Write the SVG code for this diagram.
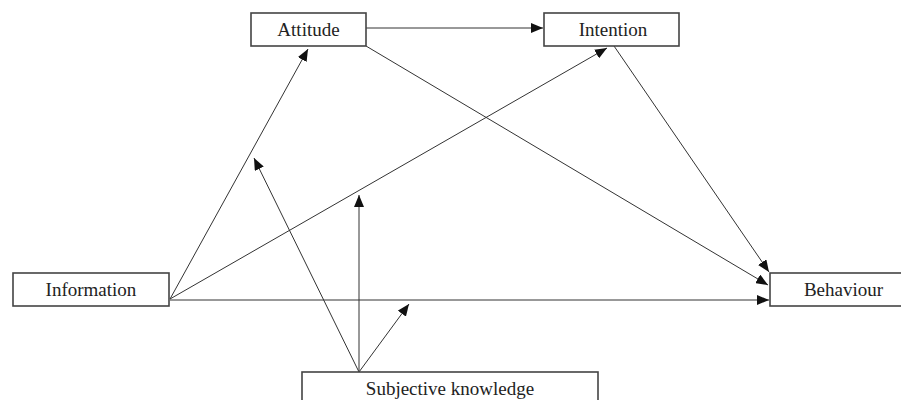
<svg xmlns="http://www.w3.org/2000/svg" width="901" height="400" viewBox="0 0 901 400">
<style>
.box{fill:#fff;stroke:#444;stroke-width:1.6}
.lbl{font-family:"Liberation Serif","Times New Roman",serif;font-size:19px;fill:#222;text-anchor:middle}
.c{stroke:#333;stroke-width:1;fill:none}
</style>
<defs>
<marker id="ah" viewBox="0 0 12 10" refX="12" refY="5" markerWidth="12" markerHeight="10" markerUnits="userSpaceOnUse" orient="auto">
<path d="M0,0 L12,5 L0,10 Z" fill="#111"/>
</marker>
</defs>
<rect width="901" height="400" fill="#fff"/>
<g id="connectors">
<line class="c" x1="366" y1="28" x2="543" y2="28" marker-end="url(#ah)"/>
<line class="c" x1="366" y1="46" x2="768" y2="285" marker-end="url(#ah)"/>
<line class="c" x1="614" y1="46" x2="769" y2="272" marker-end="url(#ah)"/>
<line class="c" x1="170" y1="299" x2="308" y2="49" marker-end="url(#ah)"/>
<line class="c" x1="170" y1="299" x2="607" y2="48" marker-end="url(#ah)"/>
<line class="c" x1="170" y1="300" x2="769" y2="300" marker-end="url(#ah)"/>
<line class="c" x1="359" y1="372" x2="254" y2="158" marker-end="url(#ah)"/>
<line class="c" x1="359" y1="372" x2="359" y2="195" marker-end="url(#ah)"/>
<line class="c" x1="359" y1="372" x2="409" y2="304" marker-end="url(#ah)"/>
</g>
<g id="attitude">
<rect class="box" x="251" y="13" width="115" height="33"/>
<text class="lbl" x="308.5" y="36">Attitude</text>
</g>
<g id="intention">
<rect class="box" x="544" y="13" width="135" height="33"/>
<text class="lbl" x="613" y="36">Intention</text>
</g>
<g id="information">
<rect class="box" x="13" y="273" width="156" height="33"/>
<text class="lbl" x="91" y="296">Information</text>
</g>
<g id="behaviour">
<rect class="box" x="770" y="273" width="150" height="33"/>
<text class="lbl" x="843.5" y="296">Behaviour</text>
</g>
<g id="subjective-knowledge">
<rect class="box" x="302" y="372" width="296" height="40"/>
<text class="lbl" x="450" y="395">Subjective knowledge</text>
</g>
</svg>
